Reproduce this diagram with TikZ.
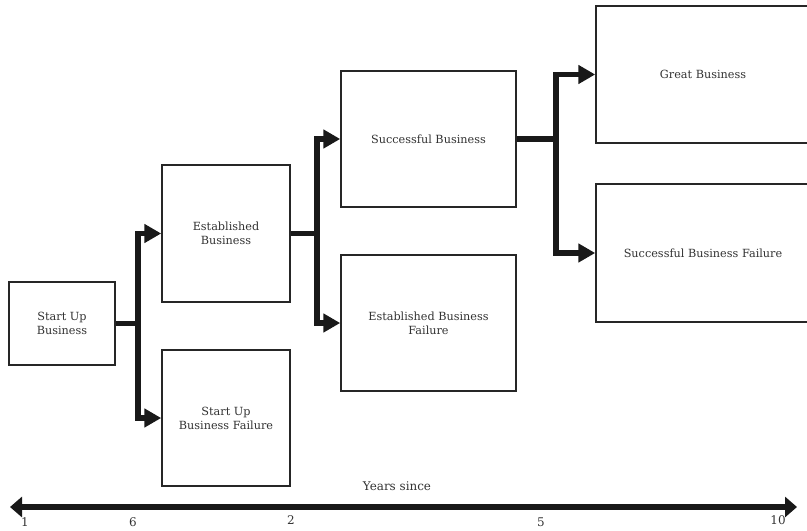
\documentclass[tikz,border=0pt]{standalone}
\usepackage{fontspec}
\setmainfont{DejaVu Serif}
\usetikzlibrary{arrows.meta, positioning}

\begin{document}
\begin{tikzpicture}[
  x=0.025cm, y=-0.025cm,
  font=\fontsize{8}{10}\selectfont,
  box/.style={rectangle, draw=black!85, line width=1.1pt, fill=white, align=center, text=black!80, inner sep=2pt},
  conn/.style={line width=4pt, black!90, line join=miter},
  arr/.style={conn, -{Triangle[length=0.42cm, width=0.45cm]}},
  timeline/.style={line width=4.5pt, black!90, {Triangle[length=0.3cm, width=0.5cm]}-{Triangle[length=0.3cm, width=0.5cm]}},
  tick/.style={text=black!80, inner sep=0pt, font=\fontsize{8.5}{10}\selectfont}
]
  \clip (0,0) rectangle (807,531);
  % stages
  \node[box, minimum width=2.65cm, minimum height=2.075cm] (start) at (62,323.5) {Start Up\\Business};
  \node[box, minimum width=3.2cm, minimum height=3.425cm] (est) at (226,233.5) {Established\\Business};
  \node[box, minimum width=3.2cm, minimum height=3.4cm] (sufail) at (226,418) {Start Up\\Business Failure};
  \node[box, minimum width=4.375cm, minimum height=3.4cm] (succ) at (428.5,139) {Successful Business};
  \node[box, minimum width=4.375cm, minimum height=3.4cm] (estfail) at (428.5,323) {Established Business\\Failure};
  \node[box, minimum width=5.35cm, minimum height=3.425cm] (great) at (703,74.5) {Great Business};
  \node[box, minimum width=5.35cm, minimum height=3.45cm] (succfail) at (703,253) {Successful Business Failure};
  % branches
  \draw[conn] (start.east) -- ++(22,0) coordinate (j1);
  \draw[arr] (j1) |- (est.west);
  \draw[arr] (j1) |- (sufail.west);
  \draw[conn] (est.east) -- ++(26,0) coordinate (j2);
  \draw[arr] (j2) |- (succ.west);
  \draw[arr] (j2) |- (estfail.west);
  \draw[conn] (succ.east) -- ++(39,0) coordinate (j3);
  \draw[arr] (j3) |- (great.west);
  \draw[arr] (j3) |- (succfail.west);
  % time axis
  \coordinate (tl) at (10,507);
  \coordinate (tr) at (797,507);
  \draw[timeline] (tl) -- (tr);
  \node[tick] (years) at (397,486) {Years since};
  \node[tick] (y1) at (25,522) {1};
  \node[tick] (y6) at (133,522) {6};
  \node[tick] (y2) at (291,520) {2};
  \node[tick] (y5) at (541,522) {5};
  \node[tick] (y10) at (778,520) {10};
\end{tikzpicture}
\end{document}
